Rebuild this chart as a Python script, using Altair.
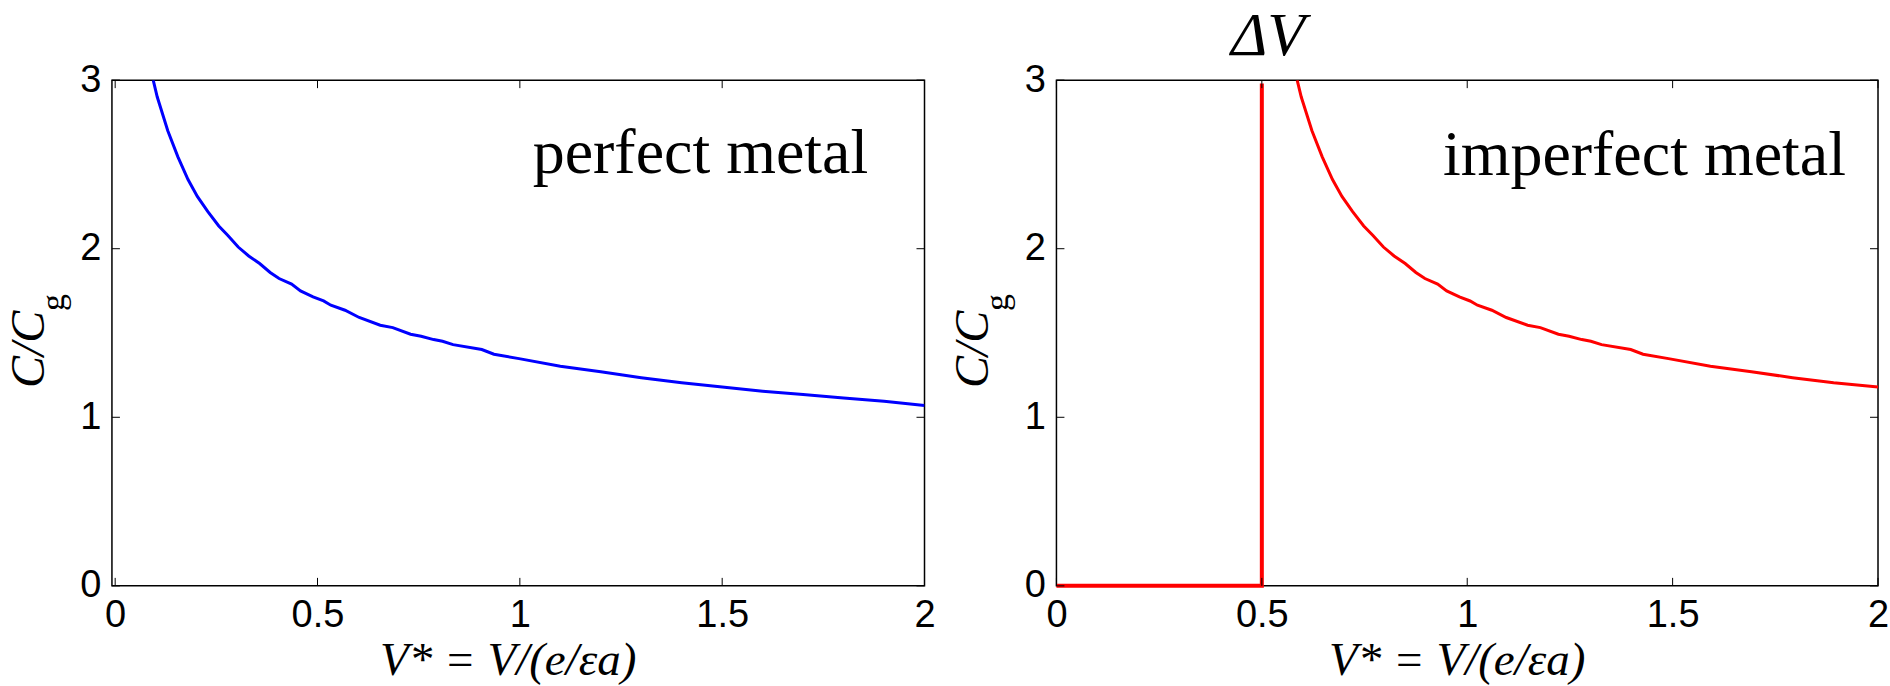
import altair as alt
import pandas as pd

# ---- data ----
blue_x = [0.094, 0.104, 0.130, 0.155, 0.180, 0.203, 0.229, 0.256, 0.278, 0.304,
          0.330, 0.357, 0.383, 0.405, 0.436, 0.458, 0.489, 0.515, 0.533, 0.568,
          0.603, 0.655, 0.686, 0.730, 0.756, 0.787, 0.809, 0.835, 0.906, 0.936,
          0.998, 1.10, 1.20, 1.30, 1.40, 1.50, 1.60, 1.70, 1.80, 1.90, 2.00]
blue_y = [3.00, 2.90, 2.70, 2.545, 2.41, 2.31, 2.22, 2.135, 2.08, 2.01,
          1.957, 1.912, 1.859, 1.823, 1.79, 1.75, 1.714, 1.69, 1.665, 1.635,
          1.592, 1.546, 1.532, 1.493, 1.481, 1.461, 1.451, 1.431, 1.402, 1.374,
          1.348, 1.303, 1.27, 1.235, 1.205, 1.18, 1.155, 1.135, 1.115, 1.095, 1.07]

red_x = [0.586, 0.596, 0.622, 0.647, 0.672, 0.695, 0.721, 0.748, 0.770, 0.796,
         0.822, 0.849, 0.875, 0.897, 0.928, 0.950, 0.981, 1.007, 1.025, 1.060,
         1.095, 1.147, 1.178, 1.222, 1.248, 1.279, 1.301, 1.327, 1.398, 1.428,
         1.490, 1.592, 1.692, 1.792, 1.892, 2.00]
red_y = [3.00, 2.90, 2.70, 2.545, 2.41, 2.31, 2.22, 2.135, 2.08, 2.01,
         1.957, 1.912, 1.859, 1.823, 1.79, 1.75, 1.714, 1.69, 1.665, 1.635,
         1.592, 1.546, 1.532, 1.493, 1.481, 1.461, 1.451, 1.431, 1.402, 1.374,
         1.348, 1.303, 1.27, 1.235, 1.205, 1.18]

step_x = [0.0, 0.5, 0.5]
step_y = [0.0, 0.0, 2.98]

x_ticks = [0, 0.5, 1, 1.5, 2]
y_ticks = [0, 1, 2, 3]

x_title = "V* = V/(e/\u03b5a)"
y_title = "C/C"
y_sub = "g"
panel_labels = ["perfect metal", "imperfect metal"]
panel_label_x = [1.861, 1.922]
panel_label_y = [2.45, 2.435]
dv_text = "\u0394V"
dv_x = 0.515

# ---- layout constants ----
W1, W2, H = 813, 822, 506
TICK = 8
SANS = "Liberation Sans"
SERIF = "Liberation Serif"


def build(width, xdom, lines, label, lx, ly, extra=None):
    xs = alt.Scale(domain=xdom, nice=False, zero=False)
    ys = alt.Scale(domain=[0, 3], nice=False, zero=False)
    xaxis = alt.Axis(values=x_ticks, format="~g", ticks=False, domain=False, grid=False,
                     title=None, labelFont=SANS, labelFontSize=38, labelColor="black",
                     labelPadding=11, labelFlush=False, labelOverlap=False)
    yaxis = alt.Axis(values=y_ticks, format="~g", ticks=False, domain=False, grid=False,
                     title=None, labelFont=SANS, labelFontSize=38, labelColor="black",
                     labelPadding=11, labelFlush=False, labelOverlap=False)
    X = lambda f: alt.X(f, scale=xs, axis=xaxis)
    Y = lambda f: alt.Y(f, scale=ys, axis=yaxis)

    layers = []
    for (lxv, lyv, color, sw, clip) in lines:
        df = pd.DataFrame({"x": lxv, "y": lyv, "i": list(range(len(lxv)))})
        layers.append(alt.Chart(df).mark_line(color=color, strokeWidth=sw, clip=clip)
                      .encode(x=X("x:Q"), y=Y("y:Q"), order="i:Q"))

    dfx = pd.DataFrame({"v": x_ticks})
    dfy = pd.DataFrame({"v": y_ticks})
    layers.append(alt.Chart(dfx).mark_rule(color="black", strokeWidth=1)
                  .encode(x=X("v:Q"), y=alt.value(H), y2=alt.value(H - TICK)))
    layers.append(alt.Chart(dfx).mark_rule(color="black", strokeWidth=1)
                  .encode(x=X("v:Q"), y=alt.value(0), y2=alt.value(TICK)))
    layers.append(alt.Chart(dfy).mark_rule(color="black", strokeWidth=1)
                  .encode(y=Y("v:Q"), x=alt.value(0), x2=alt.value(TICK)))
    layers.append(alt.Chart(dfy).mark_rule(color="black", strokeWidth=1)
                  .encode(y=Y("v:Q"), x=alt.value(width), x2=alt.value(width - TICK)))

    # panel label
    layers.append(alt.Chart(pd.DataFrame({"t": [label], "x": [lx], "y": [ly]}))
                  .mark_text(font=SERIF, fontSize=64, align="right", baseline="alphabetic", color="black")
                  .encode(x=X("x:Q"), y=Y("y:Q"), text="t:N"))
    # y title with subscript
    layers.append(alt.Chart(pd.DataFrame({"t": [y_title]}))
                  .mark_text(font=SERIF, fontStyle="italic", fontSize=48, angle=270,
                             align="left", baseline="alphabetic", color="black")
                  .encode(x=alt.value(-68), y=alt.value(308), text="t:N"))
    layers.append(alt.Chart(pd.DataFrame({"t": [y_sub]}))
                  .mark_text(font=SERIF, fontSize=34, angle=270,
                             align="left", baseline="alphabetic", color="black")
                  .encode(x=alt.value(-48), y=alt.value(231), text="t:N"))
    # x title
    layers.append(alt.Chart(pd.DataFrame({"t": [x_title]}))
                  .mark_text(font=SERIF, fontStyle="italic", fontSize=47,
                             align="center", baseline="alphabetic", color="black")
                  .encode(x=alt.value(width / 2 - 10), y=alt.value(595), text="t:N"))
    if extra is not None:
        layers.append(extra(X))
    return alt.layer(*layers).properties(width=width, height=H)


def dv_layer(X):
    return (alt.Chart(pd.DataFrame({"t": [dv_text], "x": [dv_x]}))
            .mark_text(font=SERIF, fontStyle="italic", fontSize=62,
                       align="center", baseline="alphabetic", color="black")
            .encode(x=X("x:Q"), y=alt.value(-25), text="t:N"))


left = build(W1, [-0.008, 2], [(blue_x, blue_y, "#0000ff", 3, True)],
             panel_labels[0], panel_label_x[0], panel_label_y[0])
right = build(W2, [0, 2], [(step_x, step_y, "#ff0000", 4, False), (red_x, red_y, "#ff0000", 3, True)],
              panel_labels[1], panel_label_x[1], panel_label_y[1], extra=dv_layer)

chart = (alt.hconcat(left, right, spacing=13)
         .properties(padding={"left": 5, "top": 4, "right": 0, "bottom": 0}, background="white")
         .configure_view(stroke="black", strokeWidth=1.5))

chart.save("out.html", embed_options={"renderer": "svg", "actions": False})
